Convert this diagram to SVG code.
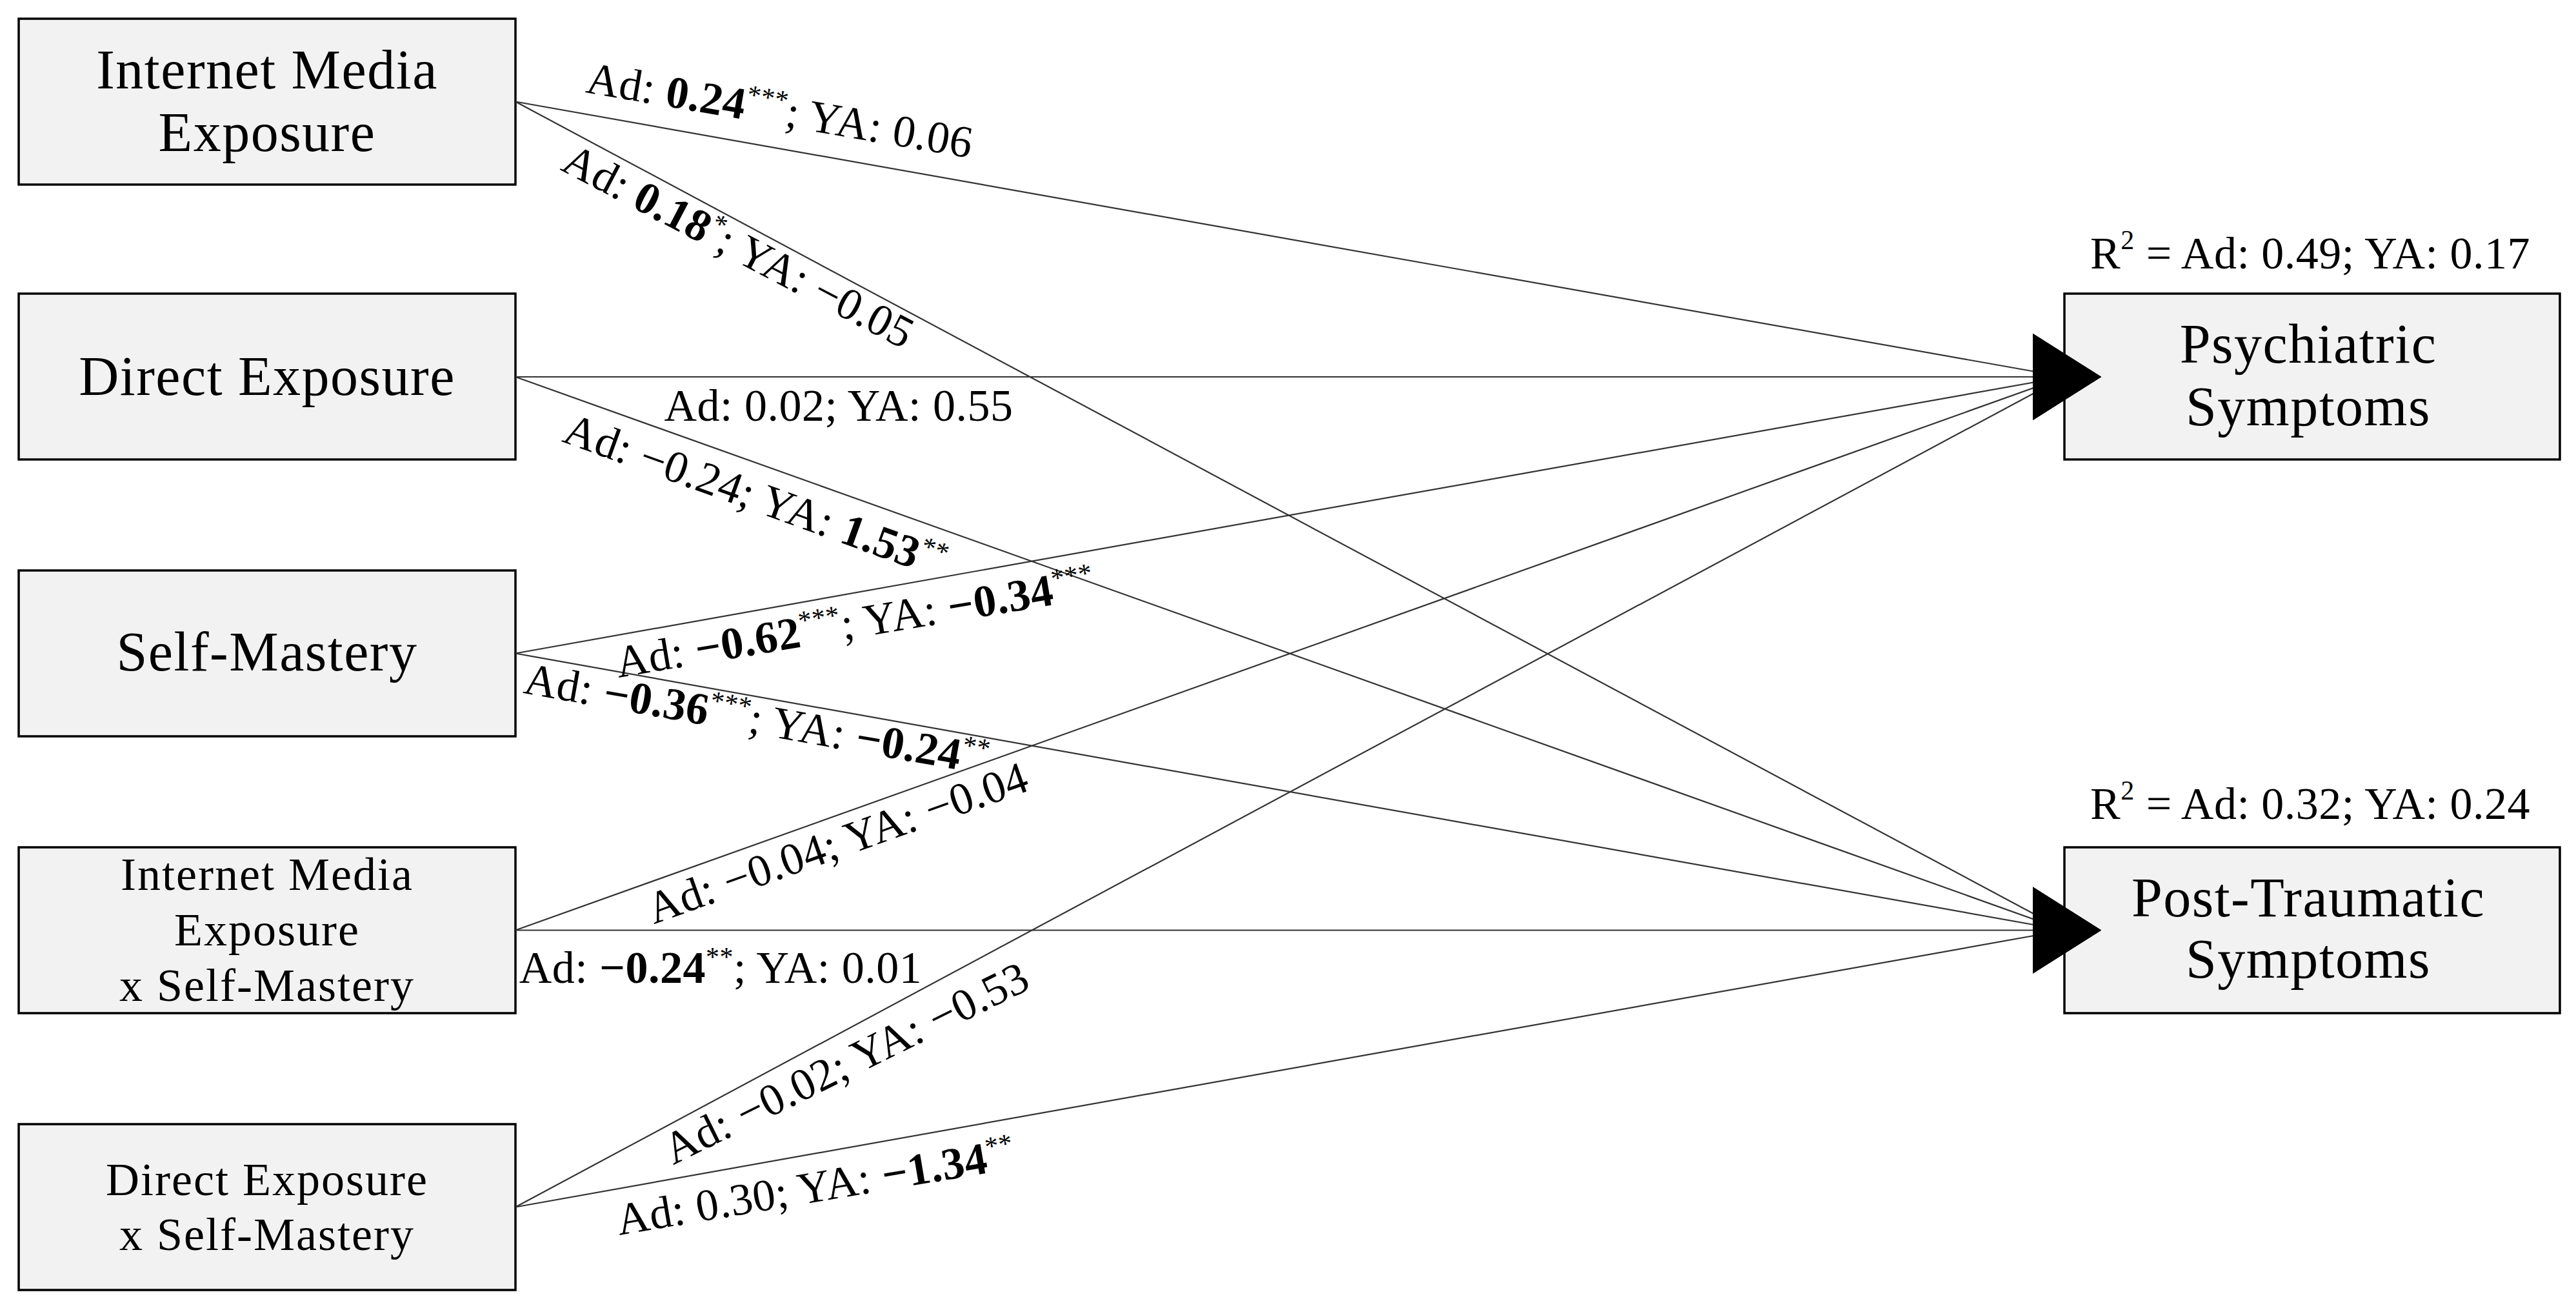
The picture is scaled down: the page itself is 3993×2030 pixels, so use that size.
<svg xmlns="http://www.w3.org/2000/svg" width="3993" height="2030" viewBox="0 0 3993 2030">
<style>
  text { font-family: "Liberation Serif", "Times New Roman", serif; fill: #000; }
  .box { fill: #f2f2f2; stroke: #000; stroke-width: 3.5; }
  .big { font-size: 86px; letter-spacing: 1.5px; text-anchor: middle; }
  .small { font-size: 72px; letter-spacing: 2px; text-anchor: middle; }
  .lbl { font-size: 70px; letter-spacing: 0.5px; text-anchor: middle; }
  .b { font-weight: bold; }
  .sup { font-size: 42px; }
  .edge { stroke: #333; stroke-width: 2.2; fill: none; marker-end: url(#arr); }
</style>
<defs>
  <marker id="arr" markerUnits="userSpaceOnUse" viewBox="0 0 106 134" markerWidth="106" markerHeight="134" refX="49" refY="67" orient="0" overflow="visible">
    <path d="M0,0 L106,67 L0,134 Z" fill="#000"/>
  </marker>
</defs>
<rect width="3993" height="2030" fill="#fff"/>

<g id="node-internet-media">
  <rect class="box" x="29" y="29" width="770" height="257"/>
  <text class="big" x="414" y="137">Internet Media</text>
  <text class="big" x="414" y="234">Exposure</text>
</g>
<g id="node-direct-exposure">
  <rect class="box" x="29" y="455" width="770" height="257"/>
  <text class="big" x="414" y="612">Direct Exposure</text>
</g>
<g id="node-self-mastery">
  <rect class="box" x="29" y="884" width="770" height="257"/>
  <text class="big" x="414" y="1039">Self-Mastery</text>
</g>
<g id="node-ime-x-sm">
  <rect class="box" x="29" y="1313" width="770" height="257"/>
  <text class="small" x="414" y="1379">Internet Media</text>
  <text class="small" x="414" y="1465">Exposure</text>
  <text class="small" x="414" y="1551">x Self-Mastery</text>
</g>
<g id="node-de-x-sm">
  <rect class="box" x="29" y="1742" width="770" height="257"/>
  <text class="small" x="414" y="1852">Direct Exposure</text>
  <text class="small" x="414" y="1937">x Self-Mastery</text>
</g>
<g id="node-psychiatric">
  <rect class="box" x="3200" y="455" width="768" height="257"/>
  <text class="big" x="3578" y="562">Psychiatric</text>
  <text class="big" x="3578" y="659">Symptoms</text>
  <text class="lbl" x="3581" y="416">R<tspan class="sup" dy="-30" font-size="46px">2</tspan><tspan dy="30"> = Ad: 0.49; YA: 0.17</tspan></text>
</g>
<g id="node-posttraumatic">
  <rect class="box" x="3200" y="1313" width="768" height="257"/>
  <text class="big" x="3578" y="1420">Post-Traumatic</text>
  <text class="big" x="3578" y="1515">Symptoms</text>
  <text class="lbl" x="3581" y="1269">R<tspan class="sup" dy="-30" font-size="46px">2</tspan><tspan dy="30"> = Ad: 0.32; YA: 0.24</tspan></text>
</g>

<g id="connectors">
  <line class="edge" x1="799" y1="157.5" x2="3200" y2="584"/>
  <line class="edge" x1="799" y1="157.5" x2="3200" y2="1441.5"/>
  <line class="edge" x1="799" y1="584" x2="3200" y2="584"/>
  <line class="edge" x1="799" y1="584" x2="3200" y2="1441.5"/>
  <line class="edge" x1="799" y1="1012.5" x2="3200" y2="584"/>
  <line class="edge" x1="799" y1="1012.5" x2="3200" y2="1441.5"/>
  <line class="edge" x1="799" y1="1441.5" x2="3200" y2="584"/>
  <line class="edge" x1="799" y1="1441.5" x2="3200" y2="1441.5"/>
  <line class="edge" x1="799" y1="1870.5" x2="3200" y2="584"/>
  <line class="edge" x1="799" y1="1870.5" x2="3200" y2="1441.5"/>

  <text class="lbl" transform="translate(1205,194) rotate(9.7)">Ad: <tspan class="b">0.24</tspan><tspan class="sup" dy="-26">***</tspan><tspan dy="26">; YA: 0.06</tspan></text>
  <text class="lbl" transform="translate(1134,402) rotate(27.6)">Ad: <tspan class="b">0.18</tspan><tspan class="sup" dy="-26">*</tspan><tspan dy="26">; YA: −0.05</tspan></text>
  <text class="lbl" x="1300" y="652">Ad: 0.02; YA: 0.55</text>
  <text class="lbl" transform="translate(1163,790) rotate(19.9)">Ad: −0.24; YA: <tspan class="b">1.53</tspan><tspan class="sup" dy="-26">**</tspan></text>
  <text class="lbl" transform="translate(1329,988) rotate(-9.5)">Ad: <tspan class="b">−0.62</tspan><tspan class="sup" dy="-26">***</tspan><tspan dy="26">; YA: </tspan><tspan class="b">−0.34</tspan><tspan class="sup" dy="-26">***</tspan></text>
  <text class="lbl" transform="translate(1169,1137) rotate(10)">Ad: <tspan class="b">−0.36</tspan><tspan class="sup" dy="-26">***</tspan><tspan dy="26">; YA: </tspan><tspan class="b">−0.24</tspan><tspan class="sup" dy="-26">**</tspan></text>
  <text class="lbl" transform="translate(1306,1328) rotate(-19.6)">Ad: −0.04; YA: −0.04</text>
  <text class="lbl" x="1117" y="1523">Ad: <tspan class="b">−0.24</tspan><tspan class="sup" dy="-26">**</tspan><tspan dy="26">; YA: 0.01</tspan></text>
  <text class="lbl" transform="translate(1322,1668) rotate(-26.3)">Ad: −0.02; YA: −0.53</text>
  <text class="lbl" transform="translate(1268,1862) rotate(-9.6)">Ad: 0.30; YA: <tspan class="b">−1.34</tspan><tspan class="sup" dy="-26">**</tspan></text>
</g>
</svg>
